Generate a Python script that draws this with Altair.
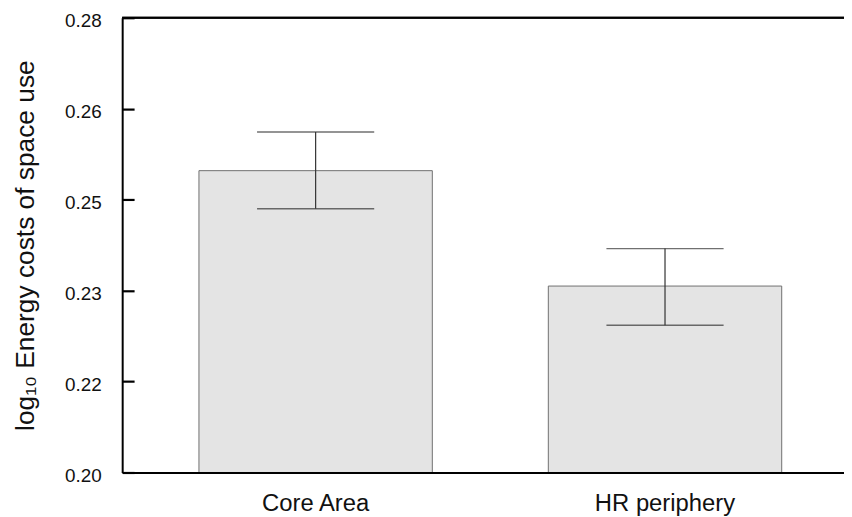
import altair as alt
import pandas as pd

categories = ["Core Area", "HR periphery"]
means = [0.2531, 0.2328]
lower = [0.2464, 0.2259]
upper = [0.2599, 0.2394]
tick_values = [0.20, 0.216, 0.232, 0.248, 0.264, 0.28]
y_domain = [0.20, 0.28]

df = pd.DataFrame({"cat": categories, "mean": means, "lo": lower, "hi": upper})

FONT = "Liberation Sans"

xscale = alt.Scale(domain=categories, paddingInner=0.332, paddingOuter=0.199, align=0.552)
yscale = alt.Scale(domain=y_domain, zero=False, nice=False)

x_enc = alt.X("cat:N", scale=xscale, sort=categories,
              axis=alt.Axis(title=None, labelAngle=0, ticks=False, tickSize=0, grid=False,
                            labelFont=FONT, labelFontSize=24, labelColor="#111",
                            labelBaseline="alphabetic", labelPadding=38,
                            domainColor="black", domainWidth=2, zindex=1))

# main left axis: line, labels, title
y_axis = alt.Axis(orient="left", values=tick_values, format=".2f", ticks=False, tickSize=0,
                  grid=False, labelFont=FONT, labelFontSize=19, labelColor="#111",
                  labelPadding=21, labelOffset=3, labelOverlap=False, labelFlush=False,
                  domainColor="black", domainWidth=2, zindex=1,
                  title="log₁₀ Energy costs of space use", titleFont=FONT,
                  titleFontSize=26.5, titleFontWeight="normal", titleColor="#111",
                  titleAngle=270, titleBaseline="alphabetic", titleAlign="center",
                  titleX=-89, titleY=229)

# second left axis moved 12px inside the plot: draws the inward-pointing ticks
tick_axis = alt.Axis(orient="left", values=tick_values, offset=-12, domain=False,
                     labels=False, ticks=True, tickSize=12, tickWidth=2.2,
                     tickColor="black", grid=False, title=None, zindex=1)

base = alt.Chart(df)

bars = base.mark_bar(fill="#e4e4e4", stroke="#707070", strokeWidth=1).encode(
    x=x_enc,
    y=alt.Y("mean:Q", scale=yscale, axis=y_axis),
    y2=alt.datum(0.20),
)

err = base.mark_rule(color="#333", strokeWidth=1.2).encode(
    x=alt.X("cat:N", sort=categories),
    y=alt.Y("lo:Q", axis=tick_axis),
    y2="hi:Q",
)

cap_lo = base.mark_tick(color="#333", size=118, thickness=1.3).encode(
    x=alt.X("cat:N", sort=categories),
    y=alt.Y("lo:Q", axis=None),
)
cap_hi = base.mark_tick(color="#333", size=118, thickness=1.3).encode(
    x=alt.X("cat:N", sort=categories),
    y=alt.Y("hi:Q", axis=None),
)

top_line = base.mark_rule(color="black", strokeWidth=2).encode(
    y=alt.Y(datum=0.28, axis=None),
)

chart = alt.layer(bars, err, cap_lo, cap_hi, top_line).resolve_axis(
    y="independent"
).properties(
    width=727, height=458,
    autosize=alt.AutoSizeParams(type="none"),
    padding={"left": 115, "top": 8, "right": 0, "bottom": 42},
).configure_view(strokeWidth=0)

chart.save("out.html", embed_options={"renderer": "svg", "actions": False})
